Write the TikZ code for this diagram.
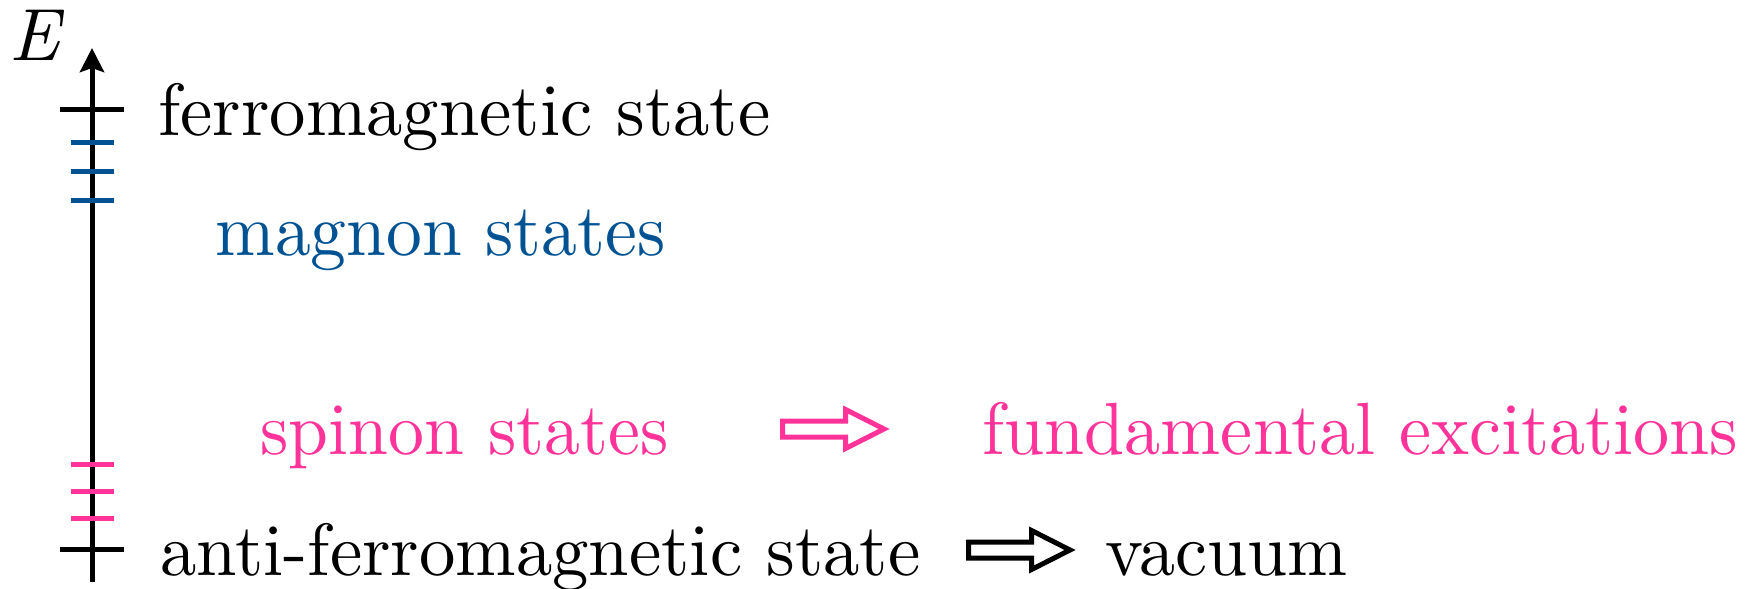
\documentclass[tikz,border=0pt]{standalone}
\usepackage{fontspec}
\usepackage{graphicx}
\usetikzlibrary{arrows.meta}

% text face: the 10pt design of Latin Modern, with its sturdier strokes
\setmainfont{lmroman10-regular.otf}[ItalicFont=lmroman10-italic.otf]

\definecolor{magnonblue}{RGB}{0,82,147}
\definecolor{spinonpink}{RGB}{255,51,153}

% set a text horizontally stretched to a given width (in pt)
\newcommand\fitwidth[2]{\sbox0{#2}\pgfmathsetmacro\fitsx{(#1)/\wd0}\scalebox{\fitsx}[1]{\usebox0}}

\tikzset{
  lbl/.style={inner sep=0pt, anchor=base west, font=\fontsize{37}{44}\selectfont},
  axisline/.style={line width=2.5pt},
  level/.style={line width=2.5pt},
  hollow arrow/.pic={
    \draw[line width=2.5pt, line join=miter]
      (2.5,-8) -- (65.5,-8) -- (65.5,-19.5) -- (104,0)
      -- (65.5,19.5) -- (65.5,8) -- (2.5,8) -- cycle;
  }
}

\begin{document}
\begin{tikzpicture}[x=0.5pt, y=-0.5pt]
  \useasboundingbox (0,0) rectangle (1757,589);

  % energy axis
  \coordinate (axbot) at (92,582);
  \coordinate (axtop) at (92,48);
  \draw[axisline, -{Stealth[length=12pt, width=12pt, inset=2pt]}] (axbot) -- (axtop);
  \node[lbl] (elabel) at (9,60) {\itshape E};

  % ground and top levels
  \draw[level] (60,109) -- (124,109);
  \draw[level] (60,549) -- (124,549);

  % magnon levels
  \foreach \y in {142,171,200}
    \draw[level, magnonblue] (71,\y) -- (114,\y);

  % spinon levels
  \foreach \y in {464,491,518}
    \draw[level, spinonpink] (71,\y) -- (114,\y);

  % labels
  \node[lbl] (ferro) at (158,135) {\fitwidth{306}{ferromagnetic state}};
  \node[lbl, text=magnonblue] (magnon) at (215,255) {\fitwidth{225}{magnon states}};
  \node[lbl, text=spinonpink] (spinon) at (260,454) {\fitwidth{204}{spinon states}};
  \node[lbl, text=spinonpink] (fund) at (982,454) {\fitwidth{378}{fundamental excitations}};
  \node[lbl] (antiferro) at (160,575) {\fitwidth{380}{anti-ferromagnetic state}};
  \node[lbl] (vacuum) at (1105,575) {\fitwidth{121}{vacuum}};

  % correspondence arrows
  \pic[spinonpink] at (780,429) {hollow arrow};
  \pic[black] at (966,550) {hollow arrow};
\end{tikzpicture}
\end{document}
